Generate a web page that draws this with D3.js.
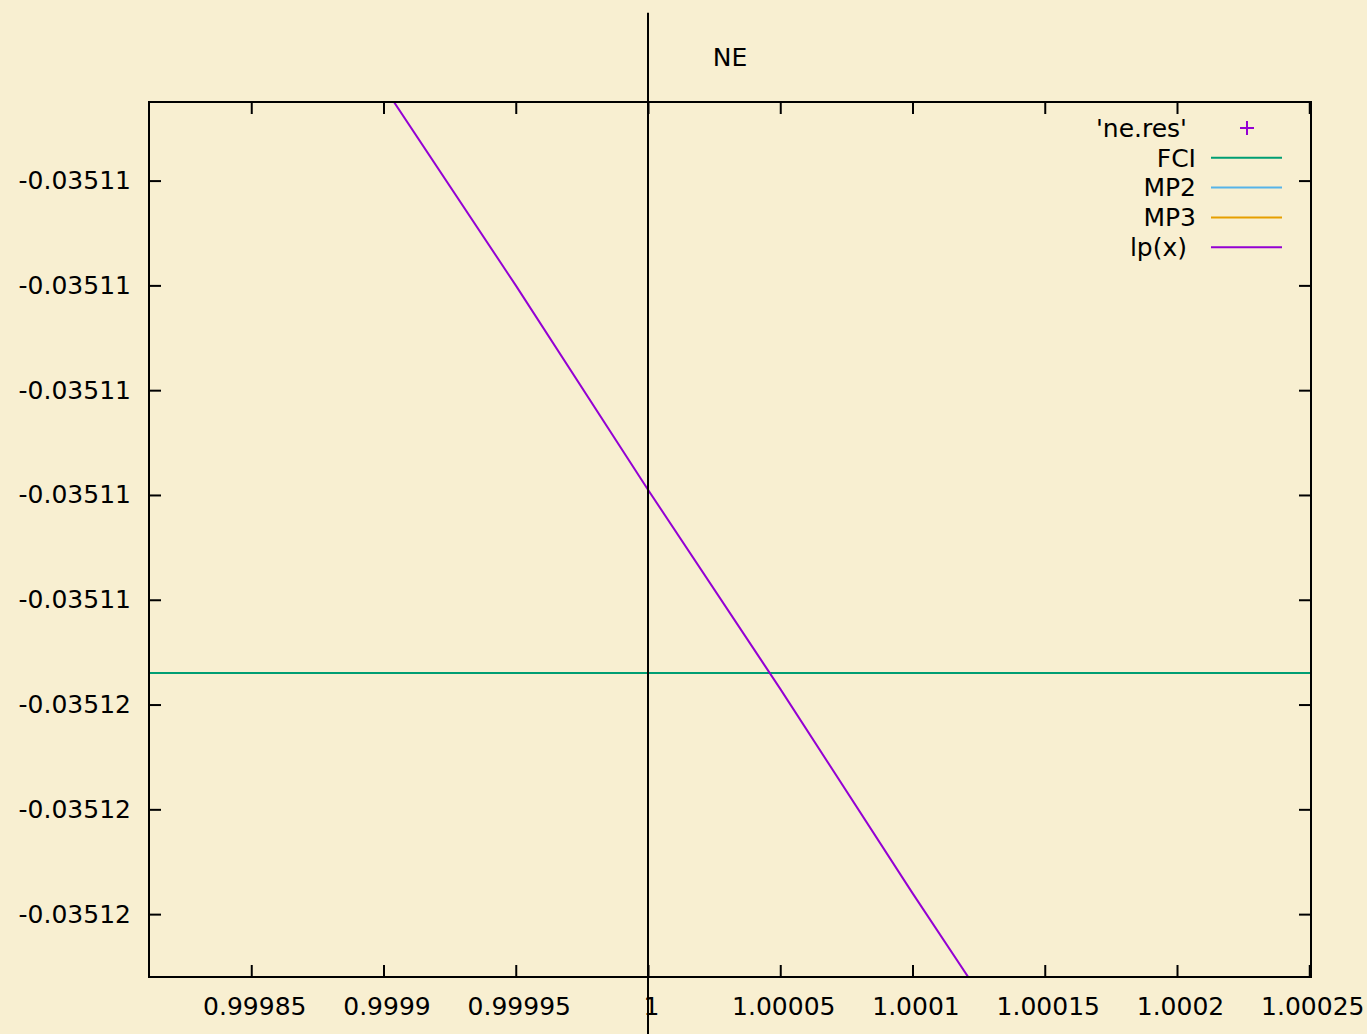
<!DOCTYPE html>
<html>
<head>
<meta charset="utf-8">
<script src="https://cdn.jsdelivr.net/npm/d3@7"></script>
<style>
  body { margin: 0; background: #f8efd1; }
  svg { display: block; font-family: "DejaVu Sans", sans-serif; }
</style>
</head>
<body>
<div id="chart"></div>
<script>
// tick values and labels
const xTicks = [0.99985, 0.9999, 0.99995, 1, 1.00005, 1.0001, 1.00015, 1.0002, 1.00025];
const xTickLabels = ["0.99985", "0.9999", "0.99995", "1", "1.00005", "1.0001", "1.00015", "1.0002", "1.00025"];
const yTicks = [-0.035106, -0.035108, -0.03511, -0.035112, -0.035114, -0.035116, -0.035118, -0.03512];
const yTickLabels = ["-0.03511", "-0.03511", "-0.03511", "-0.03511", "-0.03511", "-0.03512", "-0.03512", "-0.03512"];

// series
const fciEnergy = -0.0351154;
const lpX = [0.9999, 0.99995, 1, 1.00005, 1.0001, 1.00015];
const lpY = [-0.0351042, -0.035108, -0.0351119, -0.0351157, -0.0351196, -0.0351234];
const refX = 1;

const legendNames = ["'ne.res'", "FCI", "MP2", "MP3", "lp(x)"];
const legendColors = ["#9400d3", "#009e73", "#56b4e9", "#e69f00", "#9400d3"];

let width = 1367, height = 1034;
let margin = { top: 102, right: 56, bottom: 57, left: 149 };
let plotW = width - margin.left - margin.right;
let plotH = height - margin.top - margin.bottom;

const svg = d3.select("#chart").append("svg")
  .attr("width", width)
  .attr("height", height);

svg.append("rect").attr("width", width).attr("height", height).attr("fill", "#f8efd1");

let xScale = d3.scaleLinear().domain([0.99981134, 1.00025066]).range([0, plotW]);
let yScale = d3.scaleLinear().domain([-0.0351212, -0.0351045]).range([plotH, 0]);
// graph coords for the x=1 marker line
let graphY = d3.scaleLinear().domain([0, 1]).range([plotH, 0]);

const g = svg.append("g").attr("transform", `translate(${margin.left},${margin.top})`);

g.append("clipPath").attr("id", "plotclip")
  .append("rect").attr("width", plotW).attr("height", plotH);

// axes, ticks pointing in
let xAxis = d3.axisBottom(xScale).tickValues(xTicks)
  .tickFormat((d, i) => xTickLabels[i]).tickSizeInner(-12).tickSizeOuter(0).tickPadding(20);
g.append("g").attr("transform", `translate(0,${plotH})`).call(xAxis);

let xAxisTop = d3.axisTop(xScale).tickValues(xTicks).tickFormat("").tickSizeInner(-12).tickSizeOuter(0);
g.append("g").call(xAxisTop);

let yAxis = d3.axisLeft(yScale).tickValues(yTicks)
  .tickFormat((d, i) => yTickLabels[i]).tickSizeInner(-12).tickSizeOuter(0).tickPadding(18);
g.append("g").call(yAxis);

let yAxisRight = d3.axisRight(yScale).tickValues(yTicks).tickFormat("").tickSizeInner(-12).tickSizeOuter(0);
g.append("g").attr("transform", `translate(${plotW},0)`).call(yAxisRight);

g.selectAll(".domain").remove();
g.selectAll(".tick line").attr("stroke", "#000").attr("stroke-width", 2);
g.selectAll(".tick text")
  .attr("font-size", 25)
  .attr("font-family", "DejaVu Sans, sans-serif")
  .attr("fill", "#000");
g.selectAll(".tick text").filter(function () { return this.parentNode.parentNode.getAttribute("transform") && this.getAttribute("y") > 0; })
  .attr("dx", 3);

// FCI
g.append("line")
  .attr("clip-path", "url(#plotclip)")
  .attr("x1", 0).attr("x2", plotW)
  .attr("y1", yScale(fciEnergy)).attr("y2", yScale(fciEnergy))
  .attr("stroke", legendColors[1]).attr("stroke-width", 2);

// lp(x)
const drawLine = d3.line()
  .x((d, i) => xScale(lpX[i]))
  .y((d) => yScale(d));
g.append("path")
  .attr("clip-path", "url(#plotclip)")
  .attr("d", drawLine(lpY))
  .attr("fill", "none")
  .attr("stroke", legendColors[4]).attr("stroke-width", 2);

// x = 1 marker, graph -0.1 .. 1.1
g.append("line")
  .attr("x1", xScale(refX)).attr("x2", xScale(refX))
  .attr("y1", graphY(1.102)).attr("y2", graphY(-0.1))
  .attr("stroke", "#000").attr("stroke-width", 2);

// border
g.append("rect")
  .attr("width", plotW).attr("height", plotH)
  .attr("fill", "none").attr("stroke", "#000").attr("stroke-width", 2);

// title
svg.append("text")
  .attr("x", 730).attr("y", 66)
  .attr("text-anchor", "middle")
  .attr("font-size", 25)
  .text("NE");

// legend
let legend = svg.append("g").attr("font-size", 25);
legendNames.forEach(function (name, i) {
  let y = 128 + i * 29.8;
  let xEnd = (i === 0 || i === 4) ? 1187 : 1196;
  legend.append("text")
    .attr("x", xEnd).attr("y", y).attr("dy", "0.35em")
    .attr("text-anchor", "end")
    .text(name);
  if (i === 0) {
    legend.append("path")
      .attr("d", `M${1247 - 7},${y}h14M1247,${y - 7}v14`)
      .attr("stroke", legendColors[i]).attr("stroke-width", 2);
  } else {
    legend.append("line")
      .attr("x1", 1211).attr("x2", 1282)
      .attr("y1", y).attr("y2", y)
      .attr("stroke", legendColors[i]).attr("stroke-width", 2);
  }
});
</script>
</body>
</html>
